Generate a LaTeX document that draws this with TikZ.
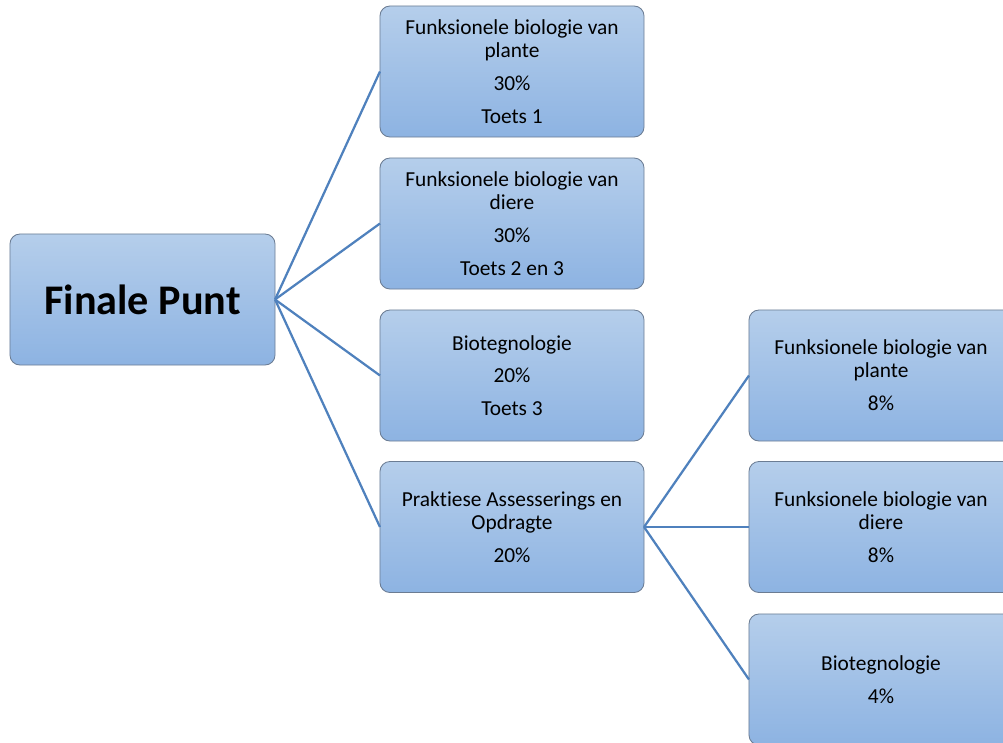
\documentclass[tikz,border=0pt]{standalone}
\usepackage{fontspec}
\setmainfont{Carlito}[RawFeature={-liga}]
\usetikzlibrary{positioning}
\definecolor{boxtop}{HTML}{B5CEEB}
\definecolor{boxbottom}{HTML}{8DB3E2}
\definecolor{boxedge}{HTML}{6B7C93}
\definecolor{linkblue}{HTML}{4F81BD}

\begin{document}
\begin{tikzpicture}[
  x=0.025cm, y=-0.025cm,
  box/.style={draw=boxedge,line width=0.6pt,rounded corners=0.25cm,
    top color=boxtop,bottom color=boxbottom,
    minimum width=6.6cm,minimum height=3.275cm,inner sep=0pt,outer sep=0pt,
    align=center,font=\fontsize{15.2}{16.3}\selectfont},
  root/.style={box,minimum width=6.625cm,font=\fontsize{30}{36}\selectfont\bfseries},
  link/.style={linkblue,line width=1.6pt}
  ]
  \useasboundingbox (0,0) rectangle (1003,742);
  \clip (0,0) rectangle (1003,742);
  % Root
  \node[root] (F) at (142.5,299.5) {Finale Punt};
  % Middle column
  \node[box] (A) at (512,71.5) {Funksionele biologie van\\plante\\[7pt]30\%\\[7pt]Toets 1};
  \node[box] (B) at (512,223.5) {Funksionele biologie van\\diere\\[7pt]30\%\\[7pt]Toets 2 en 3};
  \node[box] (C) at (512,375.5) {Biotegnologie\\[7pt]20\%\\[7pt]Toets 3};
  \node[box] (D) at (512,527) {Praktiese Assesserings en\\Opdragte\\[7pt]20\%};
  % Right column
  \node[box] (D1) at (881,375.5) {Funksionele biologie van\\plante\\[7pt]8\%};
  \node[box] (D2) at (881,527) {Funksionele biologie van\\diere\\[7pt]8\%};
  \node[box] (D3) at (881,679.5) {Biotegnologie\\[7pt]4\%};
  % Links
  \foreach \n in {A,B,C,D}
    \draw[link] (F.east) -- (\n.west);
  \foreach \n in {D1,D2,D3}
    \draw[link] (D.east) -- (\n.west);
\end{tikzpicture}
\end{document}
